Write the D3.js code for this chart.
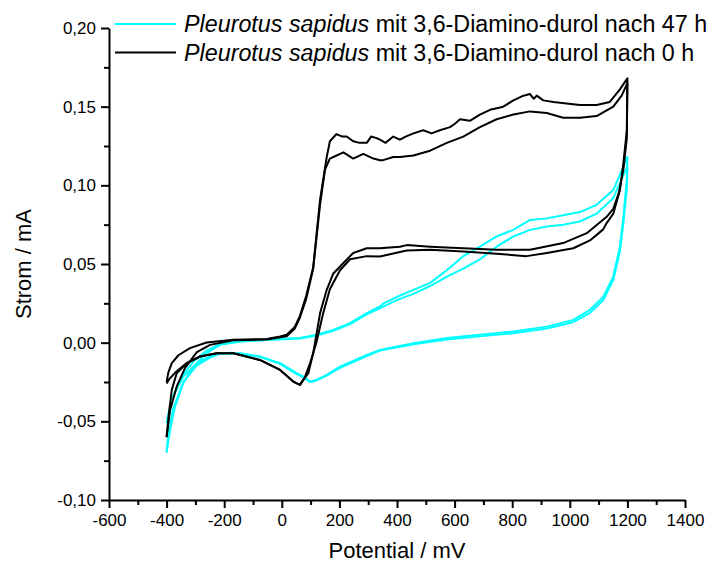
<!DOCTYPE html>
<html>
<head>
<meta charset="utf-8">
<script src="https://cdn.jsdelivr.net/npm/d3@7"></script>
<style>
  body { margin: 0; background: #fff; }
  svg text { font-family: "Liberation Sans", Arial, sans-serif; fill: #000; }
</style>
</head>
<body>
<div id="chart"></div>
<script>
// DATA
// potential in mV, current in mA
// 0 h, cycle with the higher plateau
var black0hUp = [[-400,-0.025],[-394,-0.019],[-382,-0.013],[-359,-0.008],[-319,-0.0035],[-261,0.0001],[-168,0.0018],[-52,0.0024],[-6,0.0039],[17,0.005],[45,0.010],[63,0.017],[85,0.030],[109,0.048],[133,0.091],[156,0.118],[167,0.128],[190,0.1326],[210,0.131],[225,0.131],[248,0.128],[270,0.127],[295,0.127],[310,0.131],[329,0.130],[341,0.129],[360,0.127],[387,0.131],[410,0.129],[430,0.131],[457,0.133],[491,0.135],[520,0.133],[549,0.135],[584,0.137],[600,0.139],[619,0.142],[653,0.141],[688,0.145],[723,0.148],[769,0.150],[804,0.154],[839,0.157],[862,0.158],[875,0.155],[885,0.157],[908,0.154],[943,0.153],[989,0.152],[1035,0.151],[1093,0.151],[1139,0.153],[1174,0.161],[1200,0.168],
  [1198,0.135],[1186,0.114],[1174,0.097],[1151,0.082],[1128,0.076],[1116,0.072],[1070,0.065],[1012,0.060],[920,0.057],[850,0.055],[746,0.0565],[630,0.058],[515,0.059],[434,0.0586],[341,0.0548],[295,0.055],[237,0.053],[202,0.046],[167,0.034],[144,0.019],[120,0.000],[100,-0.012],[80,-0.022],[63,-0.0268],[40,-0.0247],[-6,-0.0173],[-76,-0.011],[-168,-0.0067],[-226,-0.0067],[-284,-0.0088],[-330,-0.013],[-365,-0.0194],[-382,-0.03],[-392,-0.045],[-400,-0.06]];
// 0 h, cycle with the lower plateau
var black0hLow = [[-400,-0.06],[-388,-0.043],[-365,-0.028],[-336,-0.016],[-295,-0.006],[-249,-0.0014],[-168,0.0015],[-52,0.002],[17,0.004],[45,0.009],[63,0.016],[85,0.028],[109,0.047],[133,0.088],[150,0.110],[167,0.117],[179,0.118],[214,0.121],[248,0.117],[283,0.120],[318,0.117],[341,0.116],[352,0.116],[387,0.118],[410,0.118],[457,0.119],[515,0.122],[573,0.127],[630,0.131],[688,0.137],[746,0.142],[804,0.145],[862,0.147],[920,0.146],[977,0.143],[1035,0.143],[1093,0.144],[1151,0.150],[1180,0.157],[1200,0.165],
  [1198,0.13],[1186,0.11],[1170,0.095],[1151,0.085],[1128,0.080],[1059,0.0696],[977,0.0633],[862,0.059],[746,0.059],[630,0.060],[515,0.061],[434,0.062],[410,0.061],[341,0.060],[295,0.060],[248,0.057],[214,0.0506],[179,0.044],[156,0.0336],[133,0.0188],[109,-0.0067],[92,-0.0194],[63,-0.0268],[40,-0.0247],[-6,-0.0173],[-76,-0.011],[-168,-0.0067],[-226,-0.0067],[-284,-0.0088],[-330,-0.013],[-370,-0.019],[-390,-0.023],[-400,-0.026]];
// 47 h, upper anodic branch
var cyan47hA = [[-400,-0.069],[-388,-0.0555],[-371,-0.0406],[-342,-0.0258],[-307,-0.0152],[-261,-0.0067],[-215,-0.0014],[-145,0.0007],[-52,0.0018],[63,0.0029],[121,0.005],[179,0.0081],[237,0.0124],[295,0.0188],[341,0.023],[353,0.025],[399,0.029],[457,0.0336],[515,0.038],[573,0.046],[630,0.055],[688,0.061],[746,0.0675],[804,0.0717],[862,0.078],[920,0.079],[977,0.081],[1035,0.083],[1093,0.0876],[1151,0.097],[1200,0.118],
  [1198,0.1035],[1186,0.080],[1174,0.061],[1151,0.042],[1116,0.029],[1070,0.0209],[1012,0.0145],[920,0.0102],[804,0.0071],[688,0.005],[573,0.0029],[457,-0.0003],[341,-0.0046],[295,-0.0078],[202,-0.0152],[156,-0.0205],[121,-0.0237],[98,-0.0247],[75,-0.0216],[52,-0.0194],[-6,-0.013],[-76,-0.0088],[-145,-0.0067],[-215,-0.0067],[-249,-0.0088],[-295,-0.013],[-342,-0.0216],[-377,-0.034],[-394,-0.047],[-400,-0.051]];
// 47 h, lower anodic branch
var cyan47hB = [[-400,-0.051],[-390,-0.042],[-371,-0.031],[-342,-0.020],[-307,-0.012],[-261,-0.005],[-215,-0.001],[-145,0.0008],[-52,0.0017],[63,0.0027],[121,0.0045],[179,0.0076],[237,0.0118],[295,0.018],[341,0.022],[399,0.027],[457,0.031],[515,0.036],[573,0.042],[630,0.047],[688,0.053],[746,0.061],[804,0.0675],[862,0.0717],[920,0.0738],[977,0.075],[1035,0.077],[1093,0.082],[1151,0.092],[1200,0.112],
  [1198,0.098],[1186,0.076],[1174,0.058],[1151,0.040],[1116,0.027],[1070,0.019],[1012,0.013],[920,0.009],[804,0.006],[688,0.004],[573,0.002],[457,-0.001],[341,-0.005],[295,-0.0085],[202,-0.016],[156,-0.021],[121,-0.024],[98,-0.025],[75,-0.022],[52,-0.020],[-6,-0.0135],[-76,-0.009],[-145,-0.007],[-215,-0.007],[-249,-0.0095],[-295,-0.0145],[-342,-0.025],[-377,-0.042],[-394,-0.058],[-400,-0.07]];

var xTicks = [-600,-400,-200,0,200,400,600,800,1000,1200,1400];
var xMinor = [-500,-300,-100,100,300,500,700,900,1100,1300];
var yTicks = [-0.10,-0.05,0.00,0.05,0.10,0.15,0.20];
var yMinor = [-0.075,-0.025,0.025,0.075,0.125,0.175];
var legendItems = [
  {italic: "Pleurotus sapidus", rest: " mit 3,6-Diamino-durol nach 47 h", color: "#00ffff"},
  {italic: "Pleurotus sapidus", rest: " mit 3,6-Diamino-durol nach 0 h", color: "#000000"}
];

// SIZES
var width = 714, height = 565;
var plotLeft = 109, plotRight = 685, plotTop = 28, plotBottom = 500;

var svg = d3.select("#chart").append("svg")
    .attr("width", width)
    .attr("height", height);

var x = d3.scaleLinear().domain([-600, 1400]).range([plotLeft, plotRight]);
var y = d3.scaleLinear().domain([-0.10, 0.20]).range([plotBottom, plotTop]);

// comma decimals, plain hyphen for minus
function fmtY(v) {
    var s = Math.abs(v).toFixed(2).replace(".", ",");
    return (v < -1e-9 ? "-" : "") + s;
}

// curves, cyan first so black sits on top
var line = d3.line().x(d => x(d[0])).y(d => y(d[1]));
var curves = [
  {data: cyan47hA, color: "#00ffff"},
  {data: cyan47hB, color: "#00ffff"},
  {data: black0hUp, color: "#000"},
  {data: black0hLow, color: "#000"}
];
svg.append("g").selectAll("path")
    .data(curves)
    .enter()
    .append("path")
    .attr("d", d => line(d.data))
    .attr("fill", "none")
    .attr("stroke", d => d.color)
    .attr("stroke-width", 2)
    .attr("stroke-linejoin", "round");

// axes
var xAxis = d3.axisBottom(x).tickValues(xTicks).tickSize(8).tickSizeOuter(0).tickPadding(6)
    .tickFormat(d => d < 0 ? "-" + Math.abs(d) : "" + d);
var yAxis = d3.axisLeft(y).tickValues(yTicks).tickSize(8).tickSizeOuter(0).tickPadding(5)
    .tickFormat(fmtY);

svg.append("g").attr("transform", "translate(0," + plotBottom + ")").call(xAxis);
svg.append("g").attr("transform", "translate(" + plotLeft + ",0)").call(yAxis);

svg.append("g").attr("transform", "translate(0," + plotBottom + ")")
    .call(d3.axisBottom(x).tickValues(xMinor).tickSize(5).tickSizeOuter(0).tickFormat(""))
    .select(".domain").remove();
svg.append("g").attr("transform", "translate(" + plotLeft + ",0)")
    .call(d3.axisLeft(y).tickValues(yMinor).tickSize(5).tickSizeOuter(0).tickFormat(""))
    .select(".domain").remove();

svg.selectAll(".domain, .tick line").attr("stroke", "#000").attr("stroke-width", 2);
svg.selectAll(".tick text").attr("font-size", 17).attr("font-family", "Liberation Sans, Arial, sans-serif").attr("fill", "#000");

// axis titles
svg.append("text")
    .attr("x", (plotLeft + plotRight) / 2)
    .attr("y", 558)
    .attr("text-anchor", "middle")
    .attr("font-size", 22)
    .text("Potential / mV");

svg.append("text")
    .attr("transform", "translate(31," + (plotTop + plotBottom) / 2 + ")rotate(-90)")
    .attr("text-anchor", "middle")
    .attr("font-size", 22)
    .text("Strom / mA");

// legend
var legend = svg.append("g").selectAll("g")
    .data(legendItems)
    .enter()
    .append("g")
    .attr("transform", (d, i) => "translate(115," + (24 + i * 28.5) + ")");
legend.append("line")
    .attr("x1", 0).attr("x2", 61)
    .attr("stroke", d => d.color)
    .attr("stroke-width", 2);
var lt = legend.append("text")
    .attr("x", 69)
    .attr("y", 8)
    .attr("font-size", 23.3);
lt.append("tspan").attr("font-style", "italic").text(d => d.italic);
lt.append("tspan").text(d => d.rest);
</script>
</body>
</html>
